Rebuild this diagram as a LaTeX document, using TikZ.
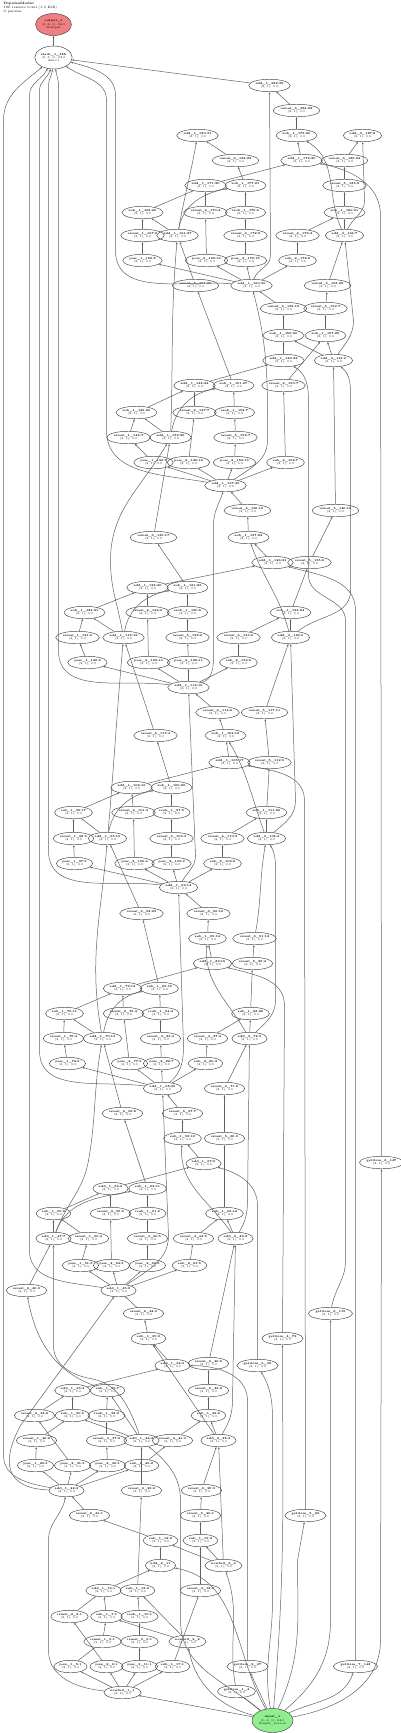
\documentclass[tikz,border=0pt]{standalone}
\usepackage{fontspec}
\usepackage{tikz}
\usetikzlibrary{arrows.meta, positioning, shapes.geometric}

\definecolor{outred}{RGB}{240,128,128}
\definecolor{ingreen}{RGB}{144,238,144}

\tikzset{
  op/.style={draw=black!75, ellipse, line width=0.45pt, inner sep=0.7pt, minimum height=12.5, align=center, font=\fontsize{2.9}{3.4}\selectfont},
  e/.style={-{Stealth[length=2.4pt,width=1.8pt]}, line width=0.5pt, draw=black!62},
}
\newcommand{\opn}[2][(2, 1), 0.0]{\textbf{\detokenize{#2}}\\#1}

\begin{document}
\begin{tikzpicture}[x=1pt, y=-1pt]
    \useasboundingbox (-0.5,-0.5) rectangle (399.5,1732.5);
    \node[anchor=north west, align=left, inner sep=0, font=\fontsize{3.3}{3.8}\selectfont] (title) at (3,2) {\textbf{DipolesModel}\\106 tensors total (1.6 KiB)\\0 params};

    % top
    \node[op, fill=outred, minimum width=36, minimum height=22] (out) at (53,24) {\opn[(2, 6, 1), 64.0\\@output]{output_1}};
    \node[op, minimum width=36, minimum height=23] (stack) at (53,57) {\opn[(2, 6, 1), 64.0\\dim=1]{stack_1_388}};
    \node[op] (addT) at (269,85) {\opn{add_1_382:39}};
    \node[op] (rsAM) at (296,110) {\opn{rsmul_6_382:22}};

    % block A
    \node[op] (addTL) at (197,135) {\opn{add_1_180:31}};
    \node[op] (subAM) at (296,135) {\opn{sub_1_173:20}};
    \node[op] (addT3) at (362,135) {\opn{add_3_187:8}};
    \node[op] (rsAL) at (235,160) {\opn{rsmul_6_184:22}};
    \node[op] (addAR) at (301,160) {\opn{add_1_172:20}};
    \node[op] (rsAR) at (344,160) {\opn{rsmul_6_186:24}};
    \node[op] (addAB) at (205,185) {\opn{add_1_171:20}};
    \node[op] (subAD) at (245,185) {\opn{sub_1_177:21}};
    \node[op] (rsA5) at (344,185) {\opn{rsmul_5_185:8}};
    \node[op] (subAA) at (142,212) {\opn{sub_1_168:20}};
    \node[op] (rsA2) at (205,212) {\opn{rsmul_2_170:4}};
    \node[op] (rsubA) at (245,212) {\opn{rsub_1_176:6}};
    \node[op] (subAE) at (344,212) {\opn{sub_1_180:21}};
    \node[op] (rsA1) at (142,235) {\opn{rsmul_1_167:6}};
    \node[op] (addAL) at (177,235) {\opn{add_1_161:27}};
    \node[op] (rsA3) at (245,235) {\opn{rsmul_3_172:8}};
    \node[op] (rsA4) at (297,235) {\opn{rsmul_4_179:4}};
    \node[op] (addA3) at (344,235) {\opn{add_3_164:7}};
    \node[op] (powA1) at (142,260) {\opn{pow_1_166:8}};
    \node[op] (powA2) at (206,260) {\opn{pow_2_169:16}};
    \node[op] (powA3) at (245,260) {\opn{pow_2_170:15}};
    \node[op] (subA2) at (297,260) {\opn{sub_2_178:8}};
    \node[op] (rsBL) at (195,285) {\opn{rsmul_6_161:20}};
    \node[op] (hubA) at (251,285) {\opn{add_1_160:30}};
    \node[op] (rsBR) at (327,285) {\opn{rsmul_6_163:22}};

    % block B
    \node[op] (rsBM) at (283,308) {\opn{rsmul_6_159:19}};
    \node[op] (rsB5) at (325,308) {\opn{rsmul_5_159:7}};
    \node[op] (subBM) at (283,335) {\opn{sub_1_156:20}};
    \node[op] (subBE) at (325,335) {\opn{sub_1_157:28}};
    \node[op] (addBR) at (283,360) {\opn{add_1_146:22}};
    \node[op] (addB3) at (333,360) {\opn{add_3_141:6}};
    \node[op] (addBB) at (194,385) {\opn{add_1_148:24}};
    \node[op] (subBD) at (233,385) {\opn{sub_1_151:27}};
    \node[op] (rsB4) at (283,385) {\opn{rsmul_4_150:7}};
    \node[op] (subBA) at (136,412) {\opn{sub_1_145:20}};
    \node[op] (rsB2) at (194,412) {\opn{rsmul_2_147:7}};
    \node[op] (rsubB) at (234,412) {\opn{rsub_1_152:7}};
    \node[op] (rsB1) at (128,437) {\opn{rsmul_1_144:7}};
    \node[op] (addBL) at (170,437) {\opn{add_1_139:25}};
    \node[op] (rsB3) at (235,437) {\opn{rsmul_3_152:7}};
    \node[op] (powB1) at (153,462) {\opn{pow_1_143:7}};
    \node[op] (powB2) at (188,462) {\opn{pow_2_146:12}};
    \node[op] (powB3) at (234,462) {\opn{pow_2_153:13}};
    \node[op] (subB2) at (285,462) {\opn{sub_2_152:7}};
    \node[op] (hubB) at (225,485) {\opn{add_1_137:35}};
    \node[op] (rsCM) at (247,510) {\opn{rsmul_6_136:10}};
    \node[op] (rsCR) at (335,510) {\opn{rsmul_5_140:18}};

    % block C
    \node[op] (rsCL) at (153,537) {\opn{rsmul_6_130:17}};
    \node[op] (subCM) at (248,537) {\opn{sub_1_137:22}};
    \node[op] (addCR) at (272,562) {\opn{add_1_126:21}};
    \node[op] (rsC5) at (309,562) {\opn{rsmul_5_135:6}};
    \node[op] (addCB) at (147,587) {\opn{add_1_125:20}};
    \node[op] (subCD) at (187,587) {\opn{sub_1_131:23}};
    \node[op] (subCA) at (84,612) {\opn{sub_1_122:21}};
    \node[op] (rsC2) at (147,612) {\opn{rsmul_2_124:6}};
    \node[op] (rsubC) at (187,612) {\opn{rsub_1_130:6}};
    \node[op] (subCE) at (290,612) {\opn{sub_1_134:24}};
    \node[op] (rsC1) at (77,637) {\opn{rsmul_1_121:6}};
    \node[op] (addCL) at (123,637) {\opn{add_1_118:19}};
    \node[op] (rsC3) at (187,637) {\opn{rsmul_3_129:6}};
    \node[op] (rsC4) at (238,637) {\opn{rsmul_4_133:6}};
    \node[op] (addC3) at (290,637) {\opn{add_3_126:5}};
    \node[op] (powC1) at (87,662) {\opn{pow_1_120:6}};
    \node[op] (powC2) at (148,662) {\opn{pow_2_123:10}};
    \node[op] (powC3) at (188,662) {\opn{pow_2_128:11}};
    \node[op] (subC2) at (238,662) {\opn{sub_2_133:6}};
    \node[op] (hubC) at (188,687) {\opn{add_1_116:16}};
    \node[op] (rsDM) at (217,712) {\opn{rsmul_6_114:6}};
    \node[op] (rsDR) at (264,712) {\opn{rsmul_5_117:11}};

    % block D
    \node[op] (rsDL) at (155,735) {\opn{rsmul_6_115:4}};
    \node[op] (subDM) at (225,735) {\opn{sub_1_104:18}};
    \node[op] (addDR) at (229,762) {\opn{add_1_105:17}};
    \node[op] (rsD5) at (269,762) {\opn{rsmul_5_112:5}};
    \node[op] (addDB) at (131,787) {\opn{add_1_102:16}};
    \node[op] (subDD) at (171,787) {\opn{sub_1_100:20}};
    \node[op] (subDA) at (73,812) {\opn{sub_1_99:17}};
    \node[op] (rsD2) at (133,812) {\opn{rsmul_2_101:3}};
    \node[op] (rsubD) at (171,812) {\opn{rsub_1_97:5}};
    \node[op] (subDE) at (266,812) {\opn{sub_1_111:20}};
    \node[op] (rsD1) at (73,838) {\opn{rsmul_1_98:5}};
    \node[op] (addDL) at (107,838) {\opn{add_1_95:15}};
    \node[op] (rsD3) at (171,838) {\opn{rsmul_3_106:3}};
    \node[op] (rsD4) at (222,838) {\opn{rsmul_4_110:3}};
    \node[op] (addD3) at (266,838) {\opn{add_3_104:4}};
    \node[op] (powD1) at (74,863) {\opn{pow_1_97:3}};
    \node[op] (powD2) at (134,863) {\opn{pow_2_100:4}};
    \node[op] (powD3) at (171,863) {\opn{pow_2_103:9}};
    \node[op] (subD2) at (222,863) {\opn{sub_2_109:2}};
    \node[op] (hubD) at (178,887) {\opn{add_1_93:14}};
    \node[op] (rsEL) at (141,913) {\opn{rsmul_6_92:23}};
    \node[op] (rsEM) at (208,913) {\opn{rsmul_6_96:16}};

    % block E
    \node[op] (subEM) at (207,938) {\opn{sub_1_95:14}};
    \node[op] (rsER) at (254,938) {\opn{rsmul_6_91:12}};
    \node[op] (addER) at (212,963) {\opn{add_1_89:15}};
    \node[op] (rsE5) at (252,963) {\opn{rsmul_5_89:4}};
    \node[op] (addEB) at (122,988) {\opn{add_1_79:12}};
    \node[op] (subED) at (159,988) {\opn{sub_1_85:15}};
    \node[op] (subEA) at (64,1013) {\opn{sub_1_76:11}};
    \node[op] (rsE2) at (123,1013) {\opn{rsmul_2_76:4}};
    \node[op] (rsubE) at (160,1013) {\opn{rsub_1_84:4}};
    \node[op] (subEE) at (250,1013) {\opn{sub_1_88:26}};
    \node[op] (rsE1) at (63,1038) {\opn{rsmul_1_75:4}};
    \node[op] (addEL) at (102,1038) {\opn{add_1_70:13}};
    \node[op] (rsE3) at (160,1038) {\opn{rsmul_3_83:4}};
    \node[op] (rsE4) at (207,1038) {\opn{rsmul_4_87:4}};
    \node[op] (addE3) at (249,1038) {\opn{add_3_72:9}};
    \node[op] (powE1) at (67,1063) {\opn{pow_1_74:6}};
    \node[op] (powE2) at (129,1063) {\opn{pow_2_77:9}};
    \node[op] (powE3) at (161,1063) {\opn{pow_2_82:7}};
    \node[op] (subE2) at (205,1063) {\opn{sub_2_86:4}};
    \node[op] (hubE) at (162,1088) {\opn{add_1_68:39}};
    \node[op] (rsFR) at (224,1088) {\opn{rsmul_6_71:9}};
    \node[op] (rsFL) at (122,1113) {\opn{rsmul_6_69:8}};
    \node[op] (rsFM) at (182,1113) {\opn{rsmul_6_67:7}};

    % block F
    \node[op] (subFM) at (182,1138) {\opn{sub_1_58:10}};
    \node[op] (rsF5) at (224,1138) {\opn{rsmul_5_66:3}};
    \node[op] (addFR) at (203,1163) {\opn{add_1_57:6}};
    \node[op] (gi7) at (381,1162) {\opn{getitem_6_147}};
    \node[op] (addFB) at (110,1188) {\opn{add_1_56:8}};
    \node[op] (subFD) at (147,1188) {\opn{sub_1_62:11}};
    \node[op] (subFA) at (53,1213) {\opn{sub_1_50:9}};
    \node[op] (rsF2) at (110,1213) {\opn{rsmul_2_55:6}};
    \node[op] (rsubF) at (147,1213) {\opn{rsub_1_61:6}};
    \node[op] (subFE) at (224,1213) {\opn{sub_1_65:12}};
    \node[op] (addFL) at (53,1238) {\opn{add_1_47:7}};
    \node[op] (rsF1) at (88,1238) {\opn{rsmul_1_50:4}};
    \node[op] (rsF3) at (147,1238) {\opn{rsmul_3_60:5}};
    \node[op] (rsF4) at (193,1238) {\opn{rsmul_4_64:5}};
    \node[op] (addF3) at (235,1238) {\opn{add_3_49:2}};
    \node[op] (powF1) at (80,1265) {\opn{pow_1_51:3}};
    \node[op] (powF2) at (111,1265) {\opn{pow_2_54:3}};
    \node[op] (powF3) at (147,1265) {\opn{pow_2_59:3}};
    \node[op] (subF2) at (189,1265) {\opn{sub_2_63:5}};
    \node[op] (rsGL) at (26,1290) {\opn{rsmul_6_40:3}};
    \node[op] (hubF) at (118,1290) {\opn{add_1_45:9}};

    % block G
    \node[op] (rsGM) at (143,1313) {\opn{rsmul_6_44:3}};
    \node[op] (gi6) at (330,1313) {\opn{getitem_6_119}};
    \node[op] (subGM) at (148,1338) {\opn{sub_1_35:9}};
    \node[op] (gi4) at (282,1338) {\opn{getitem_4_73}};
    \node[op] (addGR) at (172,1365) {\opn{add_1_34:3}};
    \node[op] (rsGR) at (208,1363) {\opn{rsmul_6_46:6}};
    \node[op] (gi3) at (257,1365) {\opn{getitem_3_38}};
    \node[op] (addGB) at (72,1390) {\opn{add_1_33:4}};
    \node[op] (subGD) at (107,1390) {\opn{sub_1_39:7}};
    \node[op] (rsG5) at (208,1390) {\opn{rsmul_5_43:2}};
    \node[op] (rsG2) at (34,1415) {\opn{rsmul_2_32:2}};
    \node[op] (subGA) at (72,1415) {\opn{sub_1_30:5}};
    \node[op] (rsubG) at (106,1415) {\opn{rsub_1_38:2}};
    \node[op] (subGE) at (208,1415) {\opn{sub_1_42:8}};
    \node[op] (rsG1) at (36,1440) {\opn{rsmul_1_26:2}};
    \node[op] (rsG3) at (106,1440) {\opn{rsmul_3_37:2}};
    \node[op] (addGL) at (141,1440) {\opn{add_1_24:3}};
    \node[op] (rsG4) at (172,1440) {\opn{rsmul_4_41:3}};
    \node[op] (addG3) at (218,1440) {\opn{add_3_28:3}};
    \node[op] (powG1) at (35,1465) {\opn{pow_1_29:3}};
    \node[op] (powG2) at (72,1465) {\opn{pow_2_31:3}};
    \node[op] (powG3) at (107,1465) {\opn{pow_2_36:3}};
    \node[op] (subG2) at (141,1465) {\opn{sub_2_40:2}};
    \node[op] (hubG) at (66,1490) {\opn{add_1_22:2}};
    \node[op] (rsHL) at (141,1490) {\opn{rsmul_6_23:2}};
    \node[op] (rsHR) at (201,1490) {\opn{rsmul_6_25:3}};

    % block H
    \node[op] (rsHM) at (89,1515) {\opn{rsmul_6_21:1}};
    \node[op] (rsH5) at (200,1515) {\opn{rsmul_5_20:1}};
    \node[op] (gi5) at (305,1515) {\opn{getitem_5_90}};
    \node[op] (subHM) at (160,1540) {\opn{sub_1_12:2}};
    \node[op] (subHE) at (200,1540) {\opn{sub_1_19:4}};
    \node[op] (addHR) at (160,1565) {\opn{add_2_11}};
    \node[op] (nf3) at (223,1565) {\opn{newfull_3_3}};
    \node[op] (addHB) at (103,1590) {\opn{add_1_16:1}};
    \node[op] (subHD) at (137,1590) {\opn{sub_1_18:2}};
    \node[op] (rsH4) at (200,1590) {\opn{rsmul_4_18:2}};
    \node[op] (rsH2) at (69,1616) {\opn{rsmul_2_8:1}};
    \node[op] (subHA) at (106,1616) {\opn{sub_1_7:1}};
    \node[op] (rsubH) at (139,1616) {\opn{rsub_1_10:1}};
    \node[op] (rsH1) at (102,1641) {\opn{rsmul_1_6:1}};
    \node[op] (rsH3) at (139,1641) {\opn{rsmul_3_9:1}};
    \node[op] (nf2) at (187,1641) {\opn{newfull_2_2}};
    \node[op] (powH1) at (70,1666) {\opn{pow_1_5:1}};
    \node[op] (powH2) at (106,1666) {\opn{pow_2_6:1}};
    \node[op] (powH3) at (139,1666) {\opn{pow_3_11:1}};
    \node[op] (subH2) at (172,1666) {\opn{sub_1_17:1}};
    \node[op] (gi2) at (247,1666) {\opn{getitem_2_27}};
    \node[op] (gi8) at (355,1666) {\opn{getitem_7_142}};
    \node[op] (nf1) at (122,1692) {\opn{newfull_1_1}};
    \node[op] (gi1) at (236,1691) {\opn{getitem_1_4}};
    \node[op, fill=ingreen, minimum width=35, minimum height=24] (in) at (272,1720) {\opn[(1, 6, 1), 64.0\\@input\_sources]{input_1}};

    % output and stack
    \draw[e] (stack) -- (out);
    \draw[e] (addT) -- (stack);
    \draw[e] (hubA) to[out=175,in=-90] (115,250) -- (115,95) to[out=90,in=-15] (stack);
    \draw[e] (hubB) to[out=170,in=-90] (106,430) -- (106,100) to[out=90,in=-35] (stack);
    \draw[e] (hubC) to[out=172,in=-90] (58,650) -- (58,85) to[out=90,in=-80] (stack);
    \draw[e] (hubD) to[out=172,in=-90] (48,850) -- (48,85) to[out=90,in=-95] (stack);
    \draw[e] (hubE) to[out=172,in=-90] (39,1050) -- (39,90) to[out=90,in=-105] (stack);
    \draw[e] (hubF) to[out=170,in=-90] (29,1250) -- (29,95) to[out=90,in=-118] (stack);
    \draw[e] (hubG) to[out=170,in=-90] (3,1455) -- (3,120) to[out=90,in=-140] (stack);

    % hub chain
    \draw[e] (nf1) to[out=175,in=-90] (48,1650) -- (48,1540) to[out=90,in=-100] (hubG);
    \draw[e] (hubG) .. controls (5,1488) and (0,1462) .. (20,1425) -- (hubF);
    \draw[e] (hubF) to[out=35,in=-90] (168,1235) -- (hubE);
    \draw[e] (hubE) to[out=40,in=-90] (183,1045) -- (hubD);
    \draw[e] (hubD) to[out=60,in=-90] (195,855) -- (hubC);
    \draw[e] (hubC) to[out=20,in=-90] (213,655) -- (213,525) to[out=90,in=-110] (hubB);
    \draw[e] (hubB) to[out=35,in=-90] (267,440) to[out=90,in=-75] (hubA);
    \draw[e] (hubA) to[out=70,in=-90] (270,255) -- (addT);

    % left add chain
    \draw[e] (in) to[out=140,in=-90] (180,1620) -- (180,1500) to[out=90,in=-40] (addGL);
    \draw[e] (addGL) to[out=110,in=-10] (90,1378) to[out=170,in=-90] (53,1345) -- (addFL);
    \draw[e] (addFL) to[out=70,in=-100] (88,1160) to[out=80,in=-100] (addEL);
    \draw[e] (addEL) to[out=100,in=-95] (addDL);
    \draw[e] (addDL) to[out=85,in=-95] (addCL);
    \draw[e] (addCL) to[out=100,in=-90] (110,560) to[out=90,in=-120] (addBL);
    \draw[e] (addBL) to[out=88,in=-95] (addAL);
    \draw[e] (addAL) to[out=80,in=-100] (addTL);

    % right add chain
    \draw[e] (nf3) -- (addG3);
    \draw[e] (addG3) to[out=60,in=-90] (232,1400) -- (addF3);
    \draw[e] (addF3) to[out=60,in=-90] (247,1200) -- (addE3);
    \draw[e] (addE3) to[out=45,in=-90] (275,1000) -- (275,870) to[out=90,in=-60] (addD3);
    \draw[e] (addD3) to[out=40,in=-90] (295,800) -- (addC3);
    \draw[e] (addC3) to[out=40,in=-90] (350,590) -- (350,400) to[out=90,in=-40] (addB3);
    \draw[e] (addB3) to[out=55,in=-90] (353,320) -- (addA3);
    \draw[e] (addA3) to[out=65,in=-90] (364,200) -- (addT3);

    % input and getitems
    \draw[e] (in) -- (nf1);
    \draw[e] (in) to[out=165,in=-80] (nf2);
    \draw[e] (in) to[out=120,in=-10] (addHR);
    \draw[e] (in) -- (gi1);
    \draw[e] (in) -- (gi2);
    \draw[e] (in) to[out=100,in=-90] (272,1600) -- (272,1420) to[out=90,in=-60] (gi3);
    \draw[e] (in) to[out=85,in=-90] (gi4);
    \draw[e] (in) to[out=65,in=-90] (297,1560) -- (gi5);
    \draw[e] (in) to[out=40,in=-90] (330,1620) -- (gi6);
    \draw[e] (in) to[out=25,in=-110] (gi8);
    \draw[e] (in) to[out=10,in=-90] (380,1640) -- (gi7);
    \draw[e] (gi1) to[out=100,in=-70] (nf3);
    \draw[e] (gi2) -- (247,1400) to[out=90,in=0] (addGR);
    \draw[e] (gi3) -- (257,1205) to[out=90,in=-15] (addFR);
    \draw[e] (gi4) -- (284,1005) to[out=90,in=-15] (addER);
    \draw[e] (gi5) -- (304,800) to[out=90,in=-10] (addDR);
    \draw[e] (gi6) to[out=80,in=-90] (345,1260) -- (345,620) to[out=90,in=-90] (308,575) -- (308,400) to[out=90,in=-30] (addBR);
    \draw[e] (gi8) -- (355,610) to[out=90,in=-15] (addCR);
    \draw[e] (gi7) -- (380,215) to[out=90,in=-10] (addAR);

    % block A edges
    \draw[e] (hubA) -- (powA1); \draw[e] (hubA) -- (powA2); \draw[e] (hubA) -- (powA3); \draw[e] (hubA) -- (subA2);
    \draw[e] (powA1) -- (rsA1); \draw[e] (rsA1) -- (subAA); \draw[e] (subAA) -- (addAB); \draw[e] (addAL) -- (subAA);
    \draw[e] (addAL) to[out=80,in=190] (subAD);
    \draw[e] (powA2) -- (rsA2); \draw[e] (rsA2) -- (addAB);
    \draw[e] (powA3) -- (rsA3); \draw[e] (rsA3) -- (rsubA); \draw[e] (rsubA) -- (subAD);
    \draw[e] (subA2) -- (rsA4); \draw[e] (rsA4) -- (subAE); \draw[e] (addA3) -- (subAE);
    \draw[e] (addAB) -- (addAR); \draw[e] (addAR) -- (subAM); \draw[e] (addA3) to[out=115,in=-30] (subAM);
    \draw[e] (subAM) -- (rsAM); \draw[e] (rsAM) -- (addT);
    \draw[e] (subAD) -- (rsAL); \draw[e] (rsAL) -- (addTL);
    \draw[e] (subAE) -- (rsA5); \draw[e] (rsA5) -- (rsAR); \draw[e] (rsAR) -- (addT3);

    % block B edges
    \draw[e] (hubB) -- (powB1); \draw[e] (hubB) -- (powB2); \draw[e] (hubB) -- (powB3); \draw[e] (hubB) -- (subB2);
    \draw[e] (powB1) -- (rsB1); \draw[e] (rsB1) -- (subBA); \draw[e] (subBA) -- (addBB); \draw[e] (addBL) -- (subBA);
    \draw[e] (addBL) to[out=80,in=190] (subBD);
    \draw[e] (powB2) -- (rsB2); \draw[e] (rsB2) -- (addBB);
    \draw[e] (powB3) -- (rsB3); \draw[e] (rsB3) -- (rsubB); \draw[e] (rsubB) -- (subBD);
    \draw[e] (subB2) -- (rsB4); \draw[e] (rsB4) -- (subBE); \draw[e] (addB3) -- (subBE);
    \draw[e] (addBB) -- (addBR); \draw[e] (addBR) -- (subBM); \draw[e] (addB3) -- (subBM);
    \draw[e] (subBM) -- (rsBM); \draw[e] (rsBM) -- (hubA);
    \draw[e] (subBD) -- (rsBL); \draw[e] (rsBL) -- (addAL);
    \draw[e] (subBE) -- (rsB5); \draw[e] (rsB5) -- (rsBR); \draw[e] (rsBR) -- (addA3);

    % block C edges
    \draw[e] (hubC) -- (powC1); \draw[e] (hubC) -- (powC2); \draw[e] (hubC) -- (powC3); \draw[e] (hubC) -- (subC2);
    \draw[e] (powC1) -- (rsC1); \draw[e] (rsC1) -- (subCA); \draw[e] (subCA) -- (addCB); \draw[e] (addCL) -- (subCA);
    \draw[e] (addCL) to[out=80,in=190] (subCD);
    \draw[e] (powC2) -- (rsC2); \draw[e] (rsC2) -- (addCB);
    \draw[e] (powC3) -- (rsC3); \draw[e] (rsC3) -- (rsubC); \draw[e] (rsubC) -- (subCD);
    \draw[e] (subC2) -- (rsC4); \draw[e] (rsC4) -- (subCE); \draw[e] (addC3) -- (subCE);
    \draw[e] (addCB) -- (addCR); \draw[e] (addCR) -- (subCM); \draw[e] (addC3) to[out=105,in=-70] (subCM);
    \draw[e] (subCM) -- (rsCM); \draw[e] (rsCM) -- (hubB);
    \draw[e] (subCD) -- (rsCL); \draw[e] (rsCL) -- (addBL);
    \draw[e] (subCE) -- (rsC5); \draw[e] (rsC5) -- (rsCR); \draw[e] (rsCR) -- (addB3);

    % block D edges
    \draw[e] (hubD) -- (powD1); \draw[e] (hubD) -- (powD2); \draw[e] (hubD) -- (powD3); \draw[e] (hubD) -- (subD2);
    \draw[e] (powD1) -- (rsD1); \draw[e] (rsD1) -- (subDA); \draw[e] (subDA) -- (addDB); \draw[e] (addDL) -- (subDA);
    \draw[e] (addDL) to[out=80,in=190] (subDD);
    \draw[e] (powD2) -- (rsD2); \draw[e] (rsD2) -- (addDB);
    \draw[e] (powD3) -- (rsD3); \draw[e] (rsD3) -- (rsubD); \draw[e] (rsubD) -- (subDD);
    \draw[e] (subD2) -- (rsD4); \draw[e] (rsD4) -- (subDE); \draw[e] (addD3) -- (subDE);
    \draw[e] (addDB) -- (addDR); \draw[e] (addDR) -- (subDM); \draw[e] (addD3) to[out=110,in=-60] (subDM);
    \draw[e] (subDM) -- (rsDM); \draw[e] (rsDM) -- (hubC);
    \draw[e] (subDD) -- (rsDL); \draw[e] (rsDL) -- (addCL);
    \draw[e] (subDE) -- (rsD5); \draw[e] (rsD5) -- (rsDR); \draw[e] (rsDR) -- (addC3);

    % block E edges
    \draw[e] (hubE) -- (powE1); \draw[e] (hubE) -- (powE2); \draw[e] (hubE) -- (powE3); \draw[e] (hubE) -- (subE2);
    \draw[e] (powE1) -- (rsE1); \draw[e] (rsE1) -- (subEA); \draw[e] (subEA) -- (addEB); \draw[e] (addEL) -- (subEA);
    \draw[e] (addEL) to[out=80,in=190] (subED);
    \draw[e] (powE2) -- (rsE2); \draw[e] (rsE2) -- (addEB);
    \draw[e] (powE3) -- (rsE3); \draw[e] (rsE3) -- (rsubE); \draw[e] (rsubE) -- (subED);
    \draw[e] (subE2) -- (rsE4); \draw[e] (rsE4) -- (subEE); \draw[e] (addE3) -- (subEE);
    \draw[e] (addEB) -- (addER); \draw[e] (addER) -- (subEM); \draw[e] (addE3) to[out=120,in=-95] (subEM);
    \draw[e] (subEM) -- (rsEM); \draw[e] (rsEM) -- (hubD);
    \draw[e] (subED) -- (rsEL); \draw[e] (rsEL) -- (addDL);
    \draw[e] (subEE) -- (rsE5); \draw[e] (rsE5) -- (rsER); \draw[e] (rsER) to[out=80,in=-100] (addD3);

    % block F edges
    \draw[e] (hubF) -- (powF1); \draw[e] (hubF) -- (powF2); \draw[e] (hubF) -- (powF3); \draw[e] (hubF) -- (subF2);
    \draw[e] (powF1) -- (rsF1); \draw[e] (rsF1) -- (subFA); \draw[e] (subFA) -- (addFB); \draw[e] (addFL) -- (subFA);
    \draw[e] (addFL) to[out=70,in=190] (subFD);
    \draw[e] (powF2) -- (rsF2); \draw[e] (rsF2) -- (addFB);
    \draw[e] (powF3) -- (rsF3); \draw[e] (rsF3) -- (rsubF); \draw[e] (rsubF) -- (subFD);
    \draw[e] (subF2) -- (rsF4); \draw[e] (rsF4) -- (subFE); \draw[e] (addF3) -- (subFE);
    \draw[e] (addFB) -- (addFR); \draw[e] (addFR) -- (subFM); \draw[e] (addF3) to[out=125,in=-95] (subFM);
    \draw[e] (subFM) -- (rsFM); \draw[e] (rsFM) -- (hubE);
    \draw[e] (subFD) -- (rsFL); \draw[e] (rsFL) -- (addEL);
    \draw[e] (subFE) -- (rsF5); \draw[e] (rsF5) -- (rsFR); \draw[e] (rsFR) -- (addE3);

    % block G edges
    \draw[e] (hubG) -- (powG1); \draw[e] (hubG) -- (powG2); \draw[e] (hubG) -- (powG3); \draw[e] (hubG) -- (subG2);
    \draw[e] (powG1) -- (rsG1); \draw[e] (rsG1) -- (subGA); \draw[e] (subGA) -- (addGB); \draw[e] (addGL) -- (subGA);
    \draw[e] (addGL) -- (subGD);
    \draw[e] (powG2) -- (rsG2); \draw[e] (rsG2) -- (addGB);
    \draw[e] (powG3) -- (rsG3); \draw[e] (rsG3) -- (rsubG); \draw[e] (rsubG) -- (subGD);
    \draw[e] (subG2) -- (rsG4); \draw[e] (rsG4) -- (subGE); \draw[e] (addG3) -- (subGE);
    \draw[e] (addGB) -- (addGR); \draw[e] (addGR) -- (subGM); \draw[e] (addG3) -- (subGM);
    \draw[e] (subGM) -- (rsGM); \draw[e] (rsGM) -- (hubF);
    \draw[e] (subGD) to[out=160,in=-80] (rsGL); \draw[e] (rsGL) -- (addFL);
    \draw[e] (subGE) -- (rsG5); \draw[e] (rsG5) -- (rsGR); \draw[e] (rsGR) -- (addF3);

    % block H edges
    \draw[e] (nf1) -- (powH1); \draw[e] (nf1) -- (powH2); \draw[e] (nf1) -- (powH3); \draw[e] (nf1) -- (subH2);
    \draw[e] (powH1) -- (rsH1); \draw[e] (rsH1) -- (subHA); \draw[e] (subHA) -- (addHB);
    \draw[e] (powH2) -- (rsH2); \draw[e] (rsH2) -- (addHB);
    \draw[e] (powH3) -- (rsH3); \draw[e] (rsH3) -- (rsubH); \draw[e] (rsubH) -- (subHD);
    \draw[e] (nf2) -- (subHA); \draw[e] (nf2) -- (subHD);
    \draw[e] (subH2) -- (rsH4); \draw[e] (rsH4) -- (subHE); \draw[e] (nf3) -- (subHE);
    \draw[e] (addHB) -- (addHR); \draw[e] (addHR) -- (subHM); \draw[e] (nf3) -- (subHM);
    \draw[e] (subHM) -- (rsHM); \draw[e] (rsHM) -- (hubG);
    \draw[e] (subHD) -- (rsHL); \draw[e] (rsHL) -- (addGL);
    \draw[e] (subHE) -- (rsH5); \draw[e] (rsH5) -- (rsHR); \draw[e] (rsHR) -- (addG3);
\end{tikzpicture}
\end{document}
